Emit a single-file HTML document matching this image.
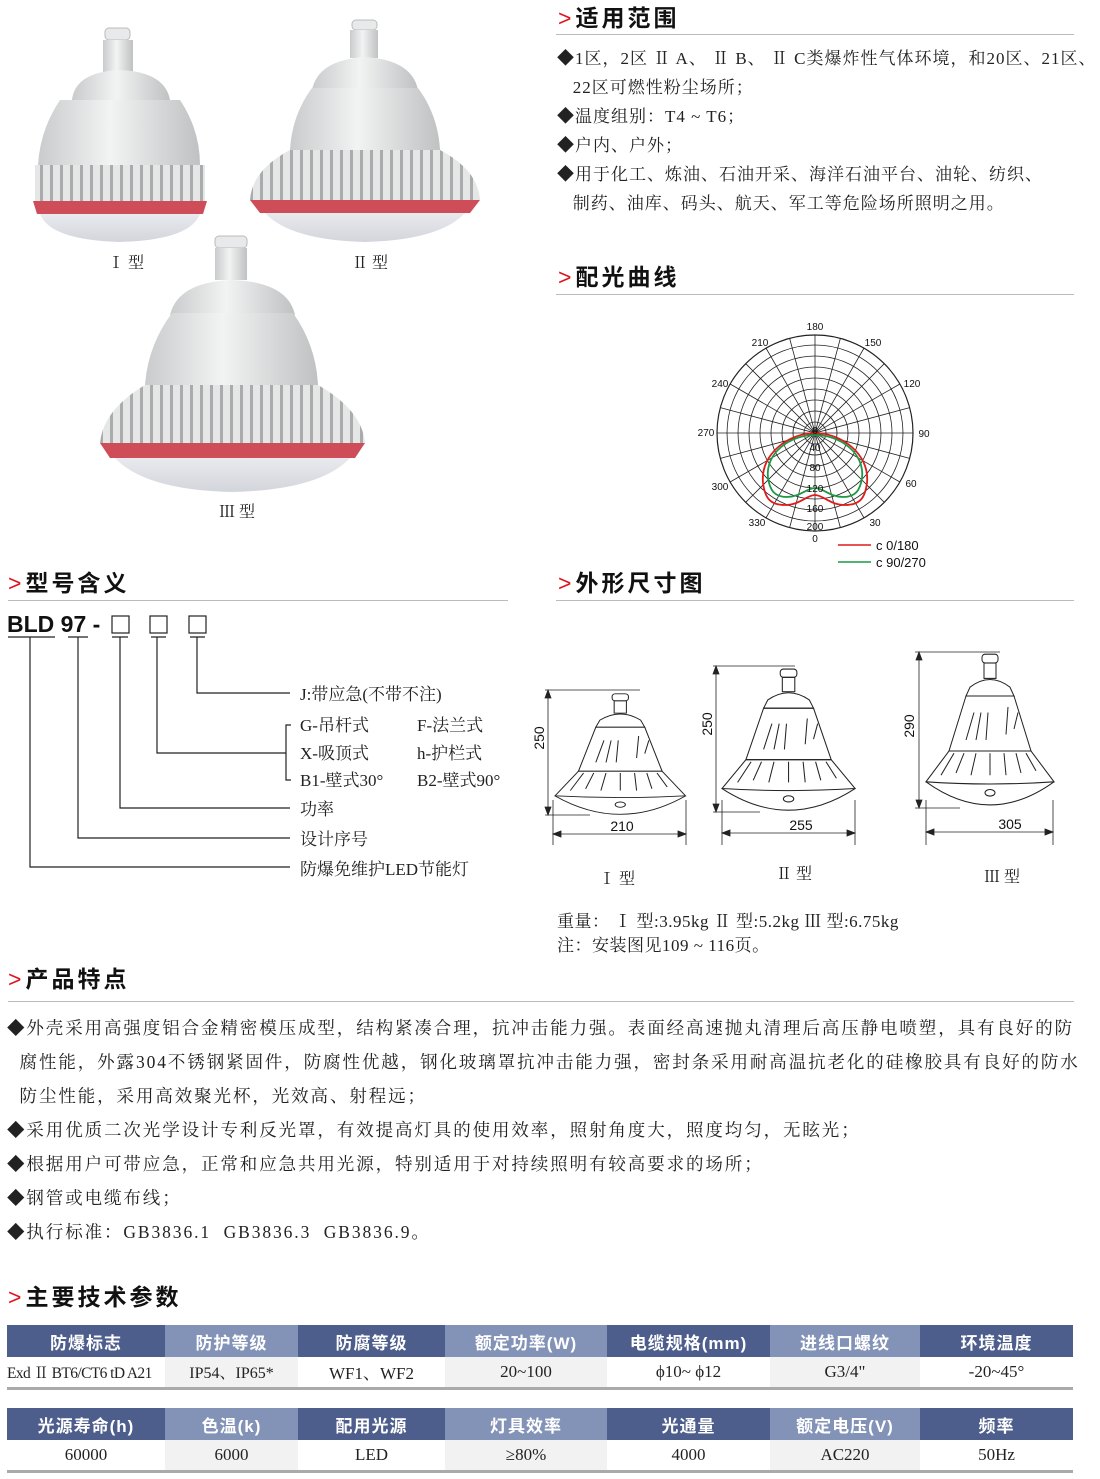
<!DOCTYPE html>
<html><head><meta charset="utf-8"><style>
*{margin:0;padding:0;box-sizing:border-box}
body{width:1100px;height:1479px;background:#fff;position:relative;overflow:hidden;font-family:"Liberation Serif","Noto Serif CJK SC","Noto Sans CJK SC",serif;color:#222}
.a{position:absolute;white-space:nowrap}
.h{position:absolute;font-family:"Liberation Sans","Noto Sans CJK SC",sans-serif;font-size:23px;font-weight:bold;letter-spacing:3px;color:#111;line-height:30px}
.h b{color:#e0141e;font-weight:normal;margin-right:4px;letter-spacing:0}
.ln{position:absolute;height:1px;background:#bbb}
.t{font-size:17px;line-height:29px;letter-spacing:1px}
.f{font-size:17.5px;line-height:34px;letter-spacing:1.9px}
table{position:absolute;left:7px;width:1066px;border-collapse:collapse;table-layout:fixed}
th{height:32px;color:#fff;font-family:"Liberation Sans","Noto Sans CJK SC",sans-serif;font-size:17px;font-weight:bold;letter-spacing:1px}
td{height:31px;text-align:center;font-size:17px;border-bottom:3px solid #aaa;white-space:nowrap;overflow:hidden}
.d{background:#4d5d8c}.l{background:#8393b8}.g{background:#f2f2f2}
</style></head><body>
<svg class="a" style="left:0;top:0" width="1100" height="1479">
<defs>
<linearGradient id="met" x1="0" x2="1"><stop offset="0" stop-color="#c9cbcc"/><stop offset=".45" stop-color="#f2f3f3"/><stop offset="1" stop-color="#bfc1c2"/></linearGradient>
<linearGradient id="lens" x1="0" y1="0" x2="0" y2="1"><stop offset="0" stop-color="#e9eaee"/><stop offset="1" stop-color="#d3d5dc"/></linearGradient>
<pattern id="fin" width="10" height="10" patternUnits="userSpaceOnUse"><rect width="10" height="10" fill="#e5e6e6"/><rect width="3" height="10" fill="#a9abad"/></pattern>
<g id="dl" fill="none" stroke="#222" stroke-width="1">
<rect x="56" y="2" width="16" height="8" rx="3"/><rect x="58" y="10" width="12" height="14"/>
<path d="M44 32 Q64 18 84 32 L88 40 L40 40Z"/>
<path d="M40 40 L88 40 L105 90 L23 90Z"/>
<path d="M23 90 L105 90 L128 118 Q64 122 0 118Z"/>
<path d="M0 118 Q64 160 128 118"/>
<ellipse cx="64" cy="128" rx="5" ry="3"/>
<path d="M40 80 L48 55 M50 80 L55 55 M60 80 L62 55 M80 75 L82 50 M88 70 L92 55 M30 110 L38 92 M45 112 L50 92 M64 112 L64 92 M80 112 L78 92 M95 110 L90 92 M110 108 L100 92 M15 112 L28 92"/>
</g>
</defs>
<g>
<rect x="105" y="28" width="25" height="12" rx="4" fill="#e8e9ea" stroke="#bbb"/><rect x="103" y="40" width="30" height="32" fill="url(#met)"/>
<path d="M72 100 Q75 72 120 70 Q165 72 170 100Z" fill="url(#met)"/>
<path d="M60 100 L180 100 Q200 130 200 165 L38 165 Q40 130 60 100Z" fill="url(#met)"/>
<rect x="35" y="165" width="170" height="36" fill="url(#fin)"/>
<path d="M33 201 L207 201 L203 214 L37 214Z" fill="#cf4d58"/>
<path d="M40 214 L200 214 Q190 240 120 242 Q50 240 40 214Z" fill="url(#lens)"/>
</g>
<g>
<rect x="352" y="20" width="25" height="10" rx="4" fill="#e8e9ea" stroke="#bbb"/><rect x="350" y="30" width="28" height="28" fill="url(#met)"/>
<path d="M312 90 Q318 60 365 57 Q412 60 418 90Z" fill="url(#met)"/>
<path d="M312 88 L418 88 Q438 115 440 150 L290 150 Q292 115 312 88Z" fill="url(#met)"/>
<path d="M290 150 L440 150 Q478 170 480 200 L250 200 Q252 170 290 150Z" fill="url(#fin)"/>
<path d="M250 200 L480 200 L470 213 L260 213Z" fill="#cf4d58"/>
<path d="M265 213 L465 213 Q440 240 365 242 Q290 240 265 213Z" fill="url(#lens)"/>
</g>
<g>
<rect x="215" y="236" width="32" height="12" rx="4" fill="#e8e9ea" stroke="#bbb"/><rect x="215" y="248" width="32" height="32" fill="url(#met)"/>
<path d="M170 315 Q178 282 232 280 Q288 282 295 315Z" fill="url(#met)"/>
<path d="M172 313 L293 313 Q316 345 318 385 L145 385 Q148 345 172 313Z" fill="url(#met)"/>
<path d="M145 385 L318 385 Q362 410 365 443 L100 443 Q103 410 145 385Z" fill="url(#fin)"/>
<path d="M100 443 L365 443 L355 458 L110 458Z" fill="#cf4d58"/>
<path d="M115 458 L350 458 Q320 490 232 492 Q145 490 115 458Z" fill="url(#lens)"/>
</g>
<g transform="translate(815,433)" fill="none" stroke="#222" stroke-width="0.8">
<circle r="98" stroke-width="1.2"/><circle r="88"/><circle r="77"/><circle r="66"/><circle r="55"/><circle r="44"/><circle r="33"/><circle r="22"/><circle r="11"/>
<line x1="-98" x2="98"/><line x1="-98" x2="98" transform="rotate(15)"/><line x1="-98" x2="98" transform="rotate(30)"/><line x1="-98" x2="98" transform="rotate(45)"/><line x1="-98" x2="98" transform="rotate(60)"/><line x1="-98" x2="98" transform="rotate(75)"/><line x1="-98" x2="98" transform="rotate(90)"/><line x1="-98" x2="98" transform="rotate(105)"/><line x1="-98" x2="98" transform="rotate(120)"/><line x1="-98" x2="98" transform="rotate(135)"/><line x1="-98" x2="98" transform="rotate(150)"/><line x1="-98" x2="98" transform="rotate(165)"/>
<path d="M0 0 C25 0 55 20 52 50 C50 65 45 72 30 72 C15 72 8 62 0 62 C-8 62 -15 72 -30 72 C-45 72 -50 65 -52 50 C-55 20 -25 0 0 0Z" stroke="#e01b1b" stroke-width="1.8"/>
<path d="M0 2 C25 2 50 20 47 45 C45 58 40 64 28 64 C15 64 8 55 0 55 C-8 55 -15 64 -28 64 C-40 64 -45 58 -47 45 C-50 20 -25 2 0 2Z" stroke="#1a9a45" stroke-width="1.8"/>
</g>
<g font-family="Liberation Sans,sans-serif" font-size="10" fill="#111" text-anchor="middle">
<text x="815" y="330">180</text><text x="873" y="346">150</text><text x="912" y="387">120</text><text x="924" y="437">90</text><text x="911" y="487">60</text><text x="875" y="526">30</text><text x="815" y="542">0</text><text x="757" y="526">330</text><text x="720" y="490">300</text><text x="706" y="436">270</text><text x="720" y="387">240</text><text x="760" y="346">210</text>
<text x="815" y="434">0</text><text x="815" y="451">40</text><text x="815" y="471">80</text><text x="815" y="492">120</text><text x="815" y="512">160</text><text x="815" y="530">200</text>
</g>
<line x1="838" y1="545" x2="871" y2="545" stroke="#e01b1b" stroke-width="1.5"/><line x1="838" y1="562" x2="871" y2="562" stroke="#1a9a45" stroke-width="1.5"/>
<text x="876" y="550" font-family="Liberation Sans,sans-serif" font-size="13" fill="#111">c 0/180</text>
<text x="876" y="567" font-family="Liberation Sans,sans-serif" font-size="13" fill="#111">c 90/270</text>
<g stroke="#222" stroke-width="1.2" fill="none">
<rect x="112" y="616" width="17" height="17"/><rect x="150" y="616" width="17" height="17"/><rect x="189" y="616" width="17" height="17"/>
<path d="M8 637 H55 M68 637 H88 M112 637 H128 M151 637 H166 M190 637 H205"/>
<path d="M30 637 V867 H290 M78 637 V838 H290 M120 637 V808 H290 M157 637 V753 H286 M197 637 V693 H290 M291 725 H286 V780 H291"/>
</g>
<use href="#dl" transform="translate(555,692) scale(1.02,0.88)"/>
<use href="#dl" transform="translate(722,667) scale(1.04,1.03)"/>
<use href="#dl" transform="translate(926,652) scale(1.0,1.1)"/>
<g stroke="#222" stroke-width="0.8" fill="#222">
<path d="M545 690 H640 M548 690 V815 M545 815 H590 M553 800 V845 M686 800 V845 M556 834 H683 M713 666 H795 M716 666 V812 M713 812 H760 M722 800 V845 M855 800 V845 M725 833 H852 M915 652 H1000 M919 652 V808 M915 808 H960 M926 800 V845 M1053 800 V845 M929 832 H1050" fill="none"/>
<path d="M548 690 l-3 8 h6z M548 815 l-3 -8 h6z M553 834 l8 -3 v6z M686 834 l-8 -3 v6z M716 666 l-3 8 h6z M716 812 l-3 -8 h6z M722 833 l8 -3 v6z M855 833 l-8 -3 v6z M919 652 l-3 8 h6z M919 808 l-3 -8 h6z M926 832 l8 -3 v6z M1053 832 l-8 -3 v6z"/>
</g>
<g font-family="Liberation Sans,sans-serif" font-size="14" fill="#111" text-anchor="middle">
<text x="622" y="831">210</text><text x="801" y="830">255</text><text x="1010" y="829">305</text>
<text transform="translate(544,738) rotate(-90)">250</text><text transform="translate(712,724) rotate(-90)">250</text><text transform="translate(914,726) rotate(-90)">290</text>
</g>
</svg>

<div class="a" style="left:108px;top:250px;font-size:16px">Ⅰ 型</div>
<div class="a" style="left:352px;top:250px;font-size:16px">Ⅱ 型</div>
<div class="a" style="left:219px;top:499px;font-size:16px">Ⅲ 型</div>
<div class="a" style="left:599px;top:866px;font-size:16px">Ⅰ 型</div>
<div class="a" style="left:776px;top:861px;font-size:16px">Ⅱ 型</div>
<div class="a" style="left:984px;top:864px;font-size:16px">Ⅲ 型</div>

<div class="h" style="left:558px;top:3px"><b>&gt;</b>适用范围</div><div class="ln" style="left:556px;top:34px;width:518px"></div>
<div class="h" style="left:558px;top:262px"><b>&gt;</b>配光曲线</div><div class="ln" style="left:556px;top:294px;width:518px"></div>
<div class="h" style="left:8px;top:568px"><b>&gt;</b>型号含义</div><div class="ln" style="left:8px;top:600px;width:500px"></div>
<div class="h" style="left:558px;top:568px"><b>&gt;</b>外形尺寸图</div><div class="ln" style="left:556px;top:600px;width:518px"></div>
<div class="h" style="left:8px;top:964px"><b>&gt;</b>产品特点</div><div class="ln" style="left:8px;top:1001px;width:1066px"></div>
<div class="h" style="left:8px;top:1282px"><b>&gt;</b>主要技术参数</div>

<div class="a t" style="left:557px;top:44px">◆1区，2区 Ⅱ A、 Ⅱ B、 Ⅱ C类爆炸性气体环境，和20区、21区、<br>&nbsp;&nbsp;&nbsp;22区可燃性粉尘场所；<br>◆温度组别：T4 ~ T6；<br>◆户内、户外；<br>◆用于化工、炼油、石油开采、海洋石油平台、油轮、纺织、<br>&nbsp;&nbsp;&nbsp;制药、油库、码头、航天、军工等危险场所照明之用。</div>

<div class="a" style="left:7px;top:611px;font-family:'Liberation Sans',sans-serif;font-size:23px;font-weight:bold;color:#111">BLD&nbsp;97 -</div>
<div class="a" style="left:300px;top:681px;font-size:17px;line-height:28px">J:带应急(不带不注)</div>
<div class="a" style="left:300px;top:712px;font-size:17px;line-height:27.5px">G-吊杆式<br>X-吸顶式<br>B1-壁式30°</div>
<div class="a" style="left:417px;top:712px;font-size:17px;line-height:27.5px">F-法兰式<br>h-护栏式<br>B2-壁式90°</div>
<div class="a" style="left:300px;top:795px;font-size:17px;line-height:30px">功率<br>设计序号<br>防爆免维护LED节能灯</div>

<div class="a" style="left:557px;top:910px;font-size:17px;line-height:24px;letter-spacing:0.5px">重量： Ⅰ 型:3.95kg Ⅱ 型:5.2kg Ⅲ 型:6.75kg<br>注：安装图见109 ~ 116页。</div>

<div class="a f" style="left:7px;top:1011px">◆外壳采用高强度铝合金精密模压成型，结构紧凑合理，抗冲击能力强。表面经高速抛丸清理后高压静电喷塑，具有良好的防<br>&nbsp;&nbsp;腐性能，外露304不锈钢紧固件，防腐性优越，钢化玻璃罩抗冲击能力强，密封条采用耐高温抗老化的硅橡胶具有良好的防水<br>&nbsp;&nbsp;防尘性能，采用高效聚光杯，光效高、射程远；<br>◆采用优质二次光学设计专利反光罩，有效提高灯具的使用效率，照射角度大，照度均匀，无眩光；<br>◆根据用户可带应急，正常和应急共用光源，特别适用于对持续照明有较高要求的场所；<br>◆钢管或电缆布线；<br>◆执行标准：GB3836.1&nbsp; GB3836.3&nbsp; GB3836.9。</div>

<table style="top:1325px">
<colgroup><col style="width:158px"><col style="width:133px"><col style="width:147px"><col style="width:162px"><col style="width:163px"><col style="width:150px"><col style="width:153px"></colgroup>
<tr><th class="d">防爆标志</th><th class="l">防护等级</th><th class="d">防腐等级</th><th class="l">额定功率(W)</th><th class="d">电缆规格(mm)</th><th class="l">进线口螺纹</th><th class="d">环境温度</th></tr>
<tr><td style="text-align:left;font-size:15.5px;letter-spacing:-0.6px">Exd Ⅱ BT6/CT6 tD A21</td><td class="g" style="font-size:16px">IP54、IP65*</td><td>WF1、WF2</td><td class="g">20~100</td><td>ϕ10~ ϕ12</td><td class="g">G3/4"</td><td>-20~45°</td></tr>
</table>
<table style="top:1408px">
<colgroup><col style="width:158px"><col style="width:133px"><col style="width:147px"><col style="width:162px"><col style="width:163px"><col style="width:150px"><col style="width:153px"></colgroup>
<tr><th class="d">光源寿命(h)</th><th class="l">色温(k)</th><th class="d">配用光源</th><th class="l">灯具效率</th><th class="d">光通量</th><th class="l">额定电压(V)</th><th class="d">频率</th></tr>
<tr><td>60000</td><td class="g">6000</td><td>LED</td><td class="g">≥80%</td><td>4000</td><td class="g">AC220</td><td>50Hz</td></tr>
</table>
</body></html>
